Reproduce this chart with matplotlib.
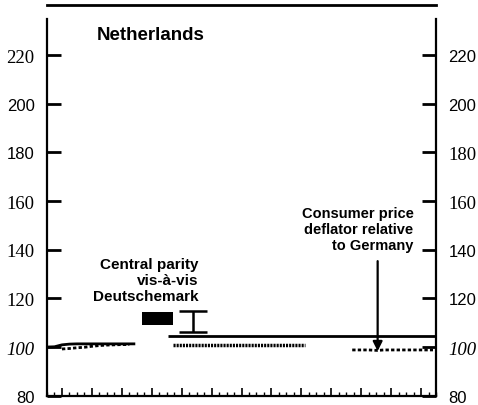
import matplotlib.pyplot as plt

# quarterly index, base = 100
q_rate_a = [0, 1, 2, 3, 4, 6, 8, 10, 11.8]
rate_a = [100.0, 100.1, 100.9, 101.2, 101.3, 101.3, 101.3, 101.3, 101.3]
q_rate_b = [16.2, 52]
rate_b = [104.4, 104.4]

q_cpi_a = [2, 3, 4, 5, 6, 7, 8, 9, 10, 11]
cpi_a = [99.2, 99.4, 99.7, 99.9, 100.3, 100.6, 100.8, 100.9, 101.0, 101.0]
q_cpi_b = [16.8, 34.5]
cpi_b = [100.9, 100.9]
q_cpi_c = [40.8, 43, 44.2, 45, 51.6]
cpi_c = [98.8, 98.8, 98.6, 98.8, 98.8]

# central parity block and band
parity_x, parity_w = 14.75, 4.1
parity_lo, parity_hi = 109.2, 114.2
band_x, band_mid, band_half = 19.5, 110.6, 4.3

yticks = [80, 100, 120, 140, 160, 180, 200, 220]
left_fonts = ['serif', 'sans', 'sans', 'serif', 'serif', 'serif', 'italic', 'sans'][::-1]
right_fonts = ['sans', 'sans', 'serif', 'serif', 'sans', 'sans', 'italic', 'sans'][::-1]

fig = plt.figure(figsize=(4.78, 4.06), dpi=100)
ax = fig.add_axes([47/478, 9.3/406, 389/478, 376.7/406])

ax.plot(q_rate_a, rate_a, color='black', lw=2.0, solid_capstyle='butt')
ax.plot(q_rate_b, rate_b, color='black', lw=2.0, solid_capstyle='butt')
ax.plot(q_cpi_a, cpi_a, color='black', lw=2.0, ls=(0, (1.2, 0.8)))
ax.plot(q_cpi_b, cpi_b, color='black', lw=2.5, ls=(0, (0.6, 0.3)))
ax.plot(q_cpi_c, cpi_c, color='black', lw=2.0, ls=(0, (1.2, 0.8)))

ax.bar(parity_x, parity_hi - parity_lo, bottom=parity_lo, width=parity_w, color='black')
ax.errorbar(band_x, band_mid, yerr=band_half, color='black', elinewidth=1.8,
            capsize=10, capthick=1.8)

ax.set_xlim(0, 52)
ax.set_ylim(80, 234.8)

# rule above the panel
ax.plot([0, 52], [240.6, 240.6], color='black', lw=2, clip_on=False)

for s in ['left', 'right', 'bottom']:
    ax.spines[s].set_linewidth(1.6)
ax.spines['top'].set_visible(False)

ax.set_xticks(range(2, 52, 4))
ax.set_xticks(range(0, 53), minor=True)
ax.tick_params(axis='x', which='major', direction='in', length=6, width=1.2, labelbottom=False)
ax.tick_params(axis='x', which='minor', direction='in', length=3, width=1.0)

ax.set_yticks(yticks)
ax.tick_params(axis='y', which='major', direction='in', length=10, width=2,
               left=True, right=True, labelleft=True, labelright=True, pad=9)
ax.set_yticklabels([str(v) for v in yticks])


def style(lbl, kind):
    if kind == 'sans':
        lbl.set_family('Liberation Sans')
        lbl.set_fontsize(12)
    elif kind == 'italic':
        lbl.set_family('Liberation Serif')
        lbl.set_style('italic')
        lbl.set_fontsize(13.5)
    else:
        lbl.set_family('Liberation Serif')
        lbl.set_fontsize(13.5)


fig.canvas.draw()
for lbl, k in zip(ax.yaxis.get_majorticklabels(), left_fonts):
    style(lbl, k)
for t, k in zip(ax.yaxis.get_major_ticks(), right_fonts):
    style(t.label2, k)

ax.text(13.8, 228.3, 'Netherlands', fontsize=13.5, fontweight='bold',
        family='Liberation Sans', ha='center', va='center')
ax.text(20.3, 127.6, 'Central parity\nvis-à-vis\nDeutschemark', fontsize=11,
        fontweight='bold', family='Liberation Sans', ha='right', va='center',
        multialignment='right', linespacing=1.18)
ax.text(49.0, 148.5, 'Consumer price\ndeflator relative\nto Germany', fontsize=10.5,
        fontweight='bold', family='Liberation Sans', ha='right', va='center',
        multialignment='right', linespacing=1.22)
ax.annotate('', xy=(44.2, 98.3), xytext=(44.2, 135.3),
            arrowprops=dict(arrowstyle='-|>', color='black', lw=1.6,
                            mutation_scale=14, shrinkA=0, shrinkB=0))

fig.savefig('out.png', dpi=100)
